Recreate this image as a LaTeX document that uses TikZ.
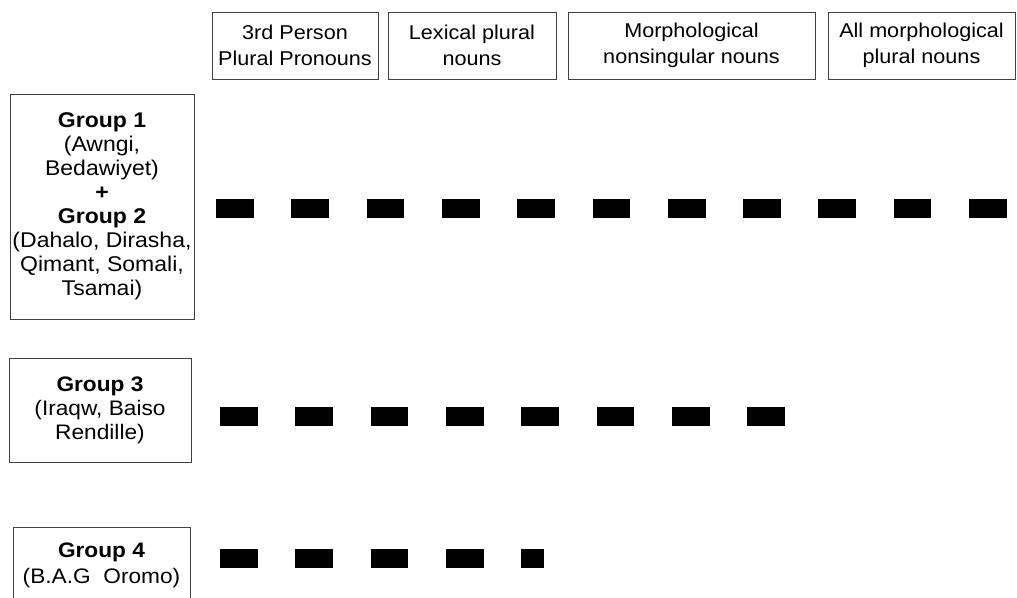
\documentclass[tikz,border=0pt]{standalone}
\usepackage{fontspec}
\setmainfont{Liberation Sans}[FakeStretch=1.08]
\begin{document}
\begin{tikzpicture}[x=1pt, y=-1pt,
  box/.style={draw=black!75, line width=1pt, fill=white, align=center, inner sep=1pt},
  headbox/.style={box, minimum height=67pt, font=\fontsize{20}{26}\selectfont},
  bar/.style={line width=19pt, dash pattern=on 37.7pt off 37.6pt}]
\useasboundingbox (0,0) rectangle (1017,597);
\clip (0,0) rectangle (1017,597);

% column headings
\node[headbox, minimum width=166pt] (h1) at (295,45.5) {3rd Person\\Plural Pronouns};
\node[headbox, minimum width=168pt] (h2) at (472,45.5) {Lexical plural\\nouns};
\node[headbox, minimum width=247pt] (h3) at (691.5,45.5) {Morphological\\nonsingular nouns};
\node[headbox, minimum width=187pt] (h4) at (921.5,45.5) {All morphological\\plural nouns};

% language groups
\node[box, minimum width=184pt, minimum height=225pt, font=\fontsize{21.3}{24}\selectfont] (g1) at (102,206.5)
  {\textbf{Group 1}\\(Awngi,\\Bedawiyet)\\\textbf{+}\\\textbf{Group 2}\\(Dahalo, Dirasha,\\Qimant, Somali,\\Tsamai)};
\node[box, minimum width=182pt, minimum height=104pt, font=\fontsize{21}{24}\selectfont] (g3) at (100,410)
  {\textbf{Group 3}\\(Iraqw, Baiso\\Rendille)};
\node[box, minimum width=177pt, minimum height=77pt, font=\fontsize{21}{26}\selectfont] (g4) at (101.5,565.5)
  {\textbf{Group 4}\\(B.A.G\ \ Oromo)};

% extent bars
\coordinate (r1s) at (216,208.5);  \coordinate (r1e) at (1007,208.5);
\coordinate (r3s) at (220,416);    \coordinate (r3e) at (786,416);
\coordinate (r4s) at (220,558.5);  \coordinate (r4e) at (544,558.5);
\draw[bar] (r1s) -- (r1e);
\draw[bar] (r3s) -- (r3e);
\draw[bar] (r4s) -- (r4e);
\end{tikzpicture}
\end{document}
